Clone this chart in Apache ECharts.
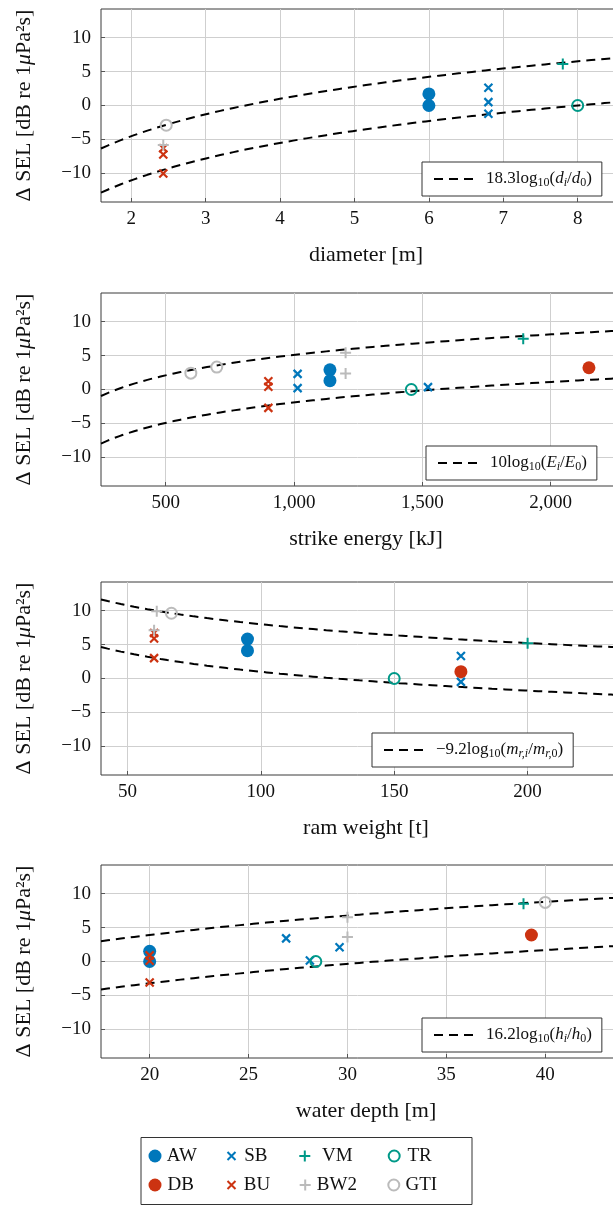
<!DOCTYPE html>
<html>
<head>
<meta charset="utf-8">
<script src="https://cdn.jsdelivr.net/npm/echarts@6/dist/echarts.min.js"></script>
<style>
  html, body { margin: 0; padding: 0; background: #fff; }
  #chart { width: 613px; height: 1206px; }
</style>
</head>
<body>
<div id="chart"></div>
<script>
// ---- data -------------------------------------------------------------
// Each row: [group, x, ΔSEL]
const diameterPoints = [
  ['AW', 6.0, 1.7], ['AW', 6.0, 0.0],
  ['SB', 6.8, 2.6], ['SB', 6.8, 0.5], ['SB', 6.8, -1.2],
  ['VM', 7.8, 6.1],
  ['TR', 8.0, 0.0],
  ['BW2', 2.43, -5.8],
  ['BU', 2.43, -6.3], ['BU', 2.43, -7.2], ['BU', 2.43, -10.0],
  ['GTI', 2.47, -2.9]
];
const energyPoints = [
  ['GTI', 598, 2.4], ['GTI', 699, 3.3],
  ['BU', 900, 1.2], ['BU', 900, 0.4], ['BU', 900, -2.7],
  ['SB', 1014, 2.3], ['SB', 1014, 0.2], ['SB', 1522, 0.35],
  ['AW', 1140, 2.9], ['AW', 1140, 1.3],
  ['BW2', 1201, 5.4], ['BW2', 1201, 2.35],
  ['TR', 1457, 0.0],
  ['VM', 1893, 7.45],
  ['DB', 2149, 3.2]
];
const ramPoints = [
  ['BW2', 61, 9.9], ['BW2', 60, 7.1],
  ['GTI', 66.5, 9.6],
  ['BU', 60, 6.7], ['BU', 60, 5.9], ['BU', 60, 3.0],
  ['AW', 95, 5.8], ['AW', 95, 4.1],
  ['TR', 150, 0.0],
  ['SB', 175, 3.3], ['SB', 175, -0.5],
  ['DB', 175, 1.0],
  ['VM', 200, 5.2]
];
const depthPoints = [
  ['AW', 20, 1.5], ['AW', 20, 0.0],
  ['BU', 20, 0.9], ['BU', 20, 0.1], ['BU', 20, -3.1],
  ['SB', 26.9, 3.4], ['SB', 28.1, 0.15], ['SB', 29.6, 2.1],
  ['TR', 28.4, 0.0],
  ['BW2', 30, 6.5], ['BW2', 30, 3.6],
  ['VM', 38.9, 8.5],
  ['GTI', 40, 8.7],
  ['DB', 39.3, 3.9]
];

// Scaling laws k·log10(x/x0) drawn as lower bound and lower bound + offset
const fitSlopes  = [18.3, 10, -9.2, 16.2];
const fitRefs    = [8, 1550, 128, 31.5];
const fitOffsets = [6.5, 7.0, 7.0, 7.1];

const diameterTicks = [2, 3, 4, 5, 6, 7, 8];
const energyTicks   = [500, 1000, 1500, 2000];
const ramTicks      = [50, 100, 150, 200];
const depthTicks    = [20, 25, 30, 35, 40];
const yTicks        = [-10, -5, 0, 5, 10];

const xTitles = ['diameter [m]', 'strike energy [kJ]', 'ram weight [t]', 'water depth [m]'];
const groups  = ['AW', 'DB', 'SB', 'BU', 'VM', 'BW2', 'TR', 'GTI'];

// ---- styling ----------------------------------------------------------
const FONT = 'Liberation Serif';
const BLUE = '#0077BB', RED = '#CC3311', TEAL = '#009988', GREY = '#BBBBBB';
const CROSS = 'path://M0,0L10,10M10,0L0,10';
const PLUS  = 'path://M5,0L5,10M0,5L10,5';
const DASH  = [9, 6];

const markerStyle = {
  AW:  { symbol: 'circle', symbolSize: 13, itemStyle: { color: BLUE, opacity: 1 } },
  DB:  { symbol: 'circle', symbolSize: 13, itemStyle: { color: RED, opacity: 1 } },
  SB:  { symbol: CROSS, symbolSize: 8, itemStyle: { color: 'none', borderColor: BLUE, borderWidth: 2.2, opacity: 1 } },
  BU:  { symbol: CROSS, symbolSize: 8, itemStyle: { color: 'none', borderColor: RED, borderWidth: 2.2, opacity: 1 } },
  VM:  { symbol: PLUS, symbolSize: 11, itemStyle: { color: 'none', borderColor: TEAL, borderWidth: 2, opacity: 1 } },
  BW2: { symbol: PLUS, symbolSize: 11, itemStyle: { color: 'none', borderColor: GREY, borderWidth: 2, opacity: 1 } },
  TR:  { symbol: 'circle', symbolSize: 11, itemStyle: { color: 'none', borderColor: TEAL, borderWidth: 2, opacity: 1 } },
  GTI: { symbol: 'circle', symbolSize: 11, itemStyle: { color: 'none', borderColor: GREY, borderWidth: 2, opacity: 1 } }
};

const panels = [
  { points: diameterPoints, ticks: diameterTicks, min: 1.593, pxPerUnit: 74.4 },
  { points: energyPoints,   ticks: energyTicks,   min: 248,   pxPerUnit: 0.25667 },
  { points: ramPoints,      ticks: ramTicks,      min: 40.1,  pxPerUnit: 2.668 },
  { points: depthPoints,    ticks: depthTicks,    min: 17.54, pxPerUnit: 19.78 }
];
const gridTops = [9, 293, 582, 865];
const GRID_LEFT = 101, GRID_W = 530, GRID_H = 193;
const Y_MIN = -14.2, Y_MAX = 14.2;

const fitNames = ['fitDiameter', 'fitEnergy', 'fitRam', 'fitDepth'];
const fitLabels = [
  '{g| }{n|18.3log}{s|10}{n|(}{i|d}{si|i}{n|/}{i|d}{s|0}{n|)}',
  '{g| }{n|10log}{s|10}{n|(}{i|E}{si|i}{n|/}{i|E}{s|0}{n|)}',
  '{g| }{n|−9.2log}{s|10}{n|(}{i|m}{si|r,i}{n|/}{i|m}{si|r,}{s|0}{n|)}',
  '{g| }{n|16.2log}{s|10}{n|(}{i|h}{si|i}{n|/}{i|h}{s|0}{n|)}'
];
const fitLegendPos = [[422, 162], [426, 446], [372, 733], [422, 1018]];

const fmtNum = v => {
  const s = Math.abs(v) >= 1000 ? Math.abs(v).toLocaleString('en-US') : String(Math.abs(v));
  return (v < 0 ? '−' : '') + s;
};

const grids = [], xAxes = [], yAxes = [], series = [], legends = [];

panels.forEach((p, i) => {
  const xMax = p.min + GRID_W / p.pxPerUnit;
  grids.push({
    left: GRID_LEFT, top: gridTops[i], width: GRID_W, height: GRID_H,
    show: true, borderColor: '#3a3a3a', borderWidth: 1, backgroundColor: 'transparent',
    containLabel: false, outerBoundsMode: 'none'
  });
  xAxes.push({
    type: 'value', gridIndex: i, min: p.min, max: xMax, position: 'bottom',
    name: xTitles[i], nameLocation: 'middle', nameGap: 42, nameMoveOverlap: false,
    nameTextStyle: { fontFamily: FONT, fontSize: 22, color: '#111' },
    axisLine: { show: false, onZero: false },
    axisTick: { show: true, inside: true, length: 4, lineStyle: { color: '#555' }, customValues: p.ticks },
    axisLabel: { customValues: p.ticks, fontFamily: FONT, fontSize: 19, color: '#111', margin: 8, formatter: fmtNum },
    splitLine: { show: true, lineStyle: { color: '#cfcfcf', width: 1 } }
  });
  yAxes.push({
    type: 'value', gridIndex: i, min: Y_MIN, max: Y_MAX, position: 'left',
    name: '{a|Δ SEL [dB re 1}{m|μ}{a|Pa²s]}', nameLocation: 'middle', nameRotate: 90, nameGap: 66,
    nameMoveOverlap: false,
    nameTextStyle: { rich: {
      a: { fontFamily: FONT, fontSize: 22, color: '#111' },
      m: { fontFamily: FONT, fontSize: 22, fontStyle: 'italic', color: '#111' }
    } },
    axisLine: { show: false, onZero: false },
    axisTick: { show: true, inside: true, length: 4, lineStyle: { color: '#555' }, customValues: yTicks },
    axisLabel: { customValues: yTicks, fontFamily: FONT, fontSize: 19, color: '#111', margin: 10, formatter: fmtNum },
    splitLine: { show: true, lineStyle: { color: '#cfcfcf', width: 1 } }
  });

  // fitted scaling laws
  const N = 80;
  [0, fitOffsets[i]].forEach(off => {
    const data = [];
    for (let k = 0; k <= N; k++) {
      const x = p.min + (xMax - p.min) * k / N;
      data.push([x, fitSlopes[i] * Math.log10(x / fitRefs[i]) + off]);
    }
    series.push({
      type: 'line', name: fitNames[i], xAxisIndex: i, yAxisIndex: i, data,
      symbol: 'none', showSymbol: false, silent: true, z: 2, clip: true,
      lineStyle: { color: '#000', width: 2, type: DASH }, itemStyle: { color: '#000' }
    });
  });

  // measured points
  groups.forEach(g => {
    const data = p.points.filter(r => r[0] === g).map(r => [r[1], r[2]]);
    if (!data.length) return;
    series.push(Object.assign({
      type: 'scatter', name: g, xAxisIndex: i, yAxisIndex: i, data, z: 3, silent: true
    }, JSON.parse(JSON.stringify(markerStyle[g]))));
  });

  legends.push({
    data: [fitNames[i]], left: fitLegendPos[i][0], top: fitLegendPos[i][1],
    padding: [7, 10, 7, 11], itemWidth: 40, itemHeight: 14, itemGap: 0,
    borderColor: '#333', borderWidth: 1, backgroundColor: '#fff', borderRadius: 0,
    selectedMode: false, formatter: () => fitLabels[i],
    itemStyle: { color: 'transparent', borderColor: 'transparent', borderWidth: 0 },
    lineStyle: { color: '#000', width: 2, type: DASH },
    textStyle: { rich: {
      g: { width: 7, fontSize: 17, fontFamily: FONT },
      n: { fontFamily: FONT, fontSize: 17, lineHeight: 20, color: '#111' },
      i: { fontFamily: FONT, fontSize: 17, lineHeight: 20, fontStyle: 'italic', color: '#111' },
      s: { fontFamily: FONT, fontSize: 12, lineHeight: 12, padding: [8, 0, 0, 0], color: '#111' },
      si: { fontFamily: FONT, fontSize: 12, lineHeight: 12, padding: [8, 0, 0, 0], fontStyle: 'italic', color: '#111' }
    } }
  });
});

// group legend, two rows in a framed box
const groupLegendIcon = { AW: 13, DB: 13, SB: 8, BU: 8, VM: 11, BW2: 11, TR: 11, GTI: 11 };
const groupLegendPos = {   // [icon centre x, text x, row centre y]
  AW: [155, 166.7, 1156], SB: [229, 241.7, 1156], VM: [302.3, 319.5, 1156], TR: [391.7, 405, 1156],
  DB: [155, 167.5, 1185], BU: [229, 241.3, 1185], BW2: [302.7, 314.3, 1185], GTI: [391.3, 403, 1185]
};
groups.forEach(g => {
  const iw = groupLegendIcon[g];
  const [cx, tx, cy] = groupLegendPos[g];
  const left = cx - iw / 2;
  legends.push({
    data: [g], left, top: cy - 10, padding: 0, itemWidth: iw, itemHeight: iw,
    selectedMode: false,
    textStyle: { fontFamily: FONT, fontSize: 19, lineHeight: 20, color: '#111',
                 padding: [0, 0, 0, Math.max(0, tx - (left + iw + 5))] }
  });
});

const chart = echarts.init(document.getElementById('chart'), null, { renderer: 'canvas' });
chart.setOption({
  animation: false,
  backgroundColor: '#fff',
  grid: grids, xAxis: xAxes, yAxis: yAxes, series, legend: legends,
  graphic: [{
    type: 'rect', z: 0,
    shape: { x: 141, y: 1137.5, width: 331, height: 67 },
    style: { fill: '#fff', stroke: '#333', lineWidth: 1 }
  }]
});
</script>
</body>
</html>
